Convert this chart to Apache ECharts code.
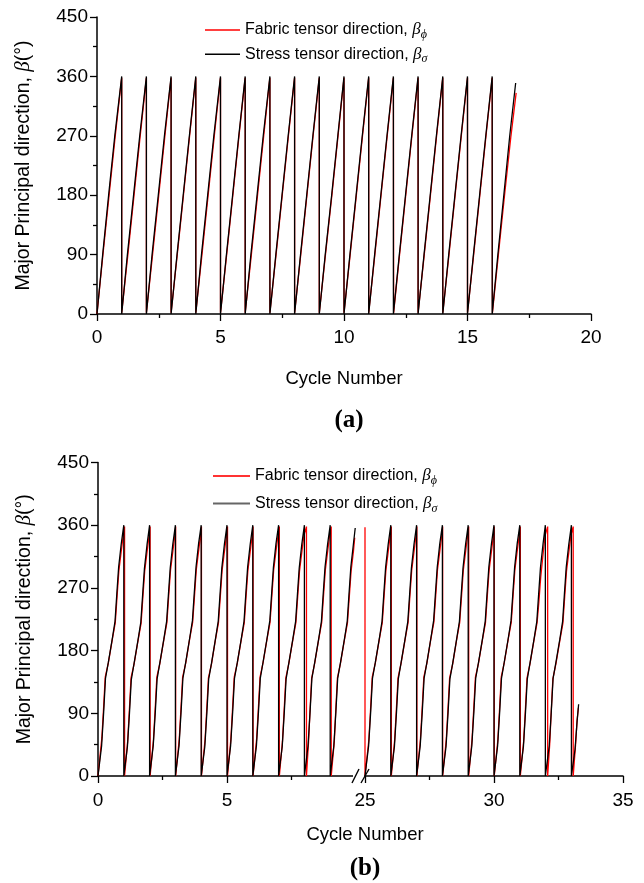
<!DOCTYPE html>
<html><head><meta charset="utf-8">
<script src="https://cdn.jsdelivr.net/npm/echarts@6/dist/echarts.min.js"></script>
<style>html,body{margin:0;padding:0;background:#fff}#c{width:644px;height:883px}</style>
</head><body><div id="c"></div>
<script>
const seriesNames = ['Fabric tensor direction', 'Stress tensor direction'];
const seriesSubs = ['ϕ', 'σ'];
const yTickValues = [0, 90, 180, 270, 360, 450];
const topXTicks = [0, 5, 10, 15, 20];
const botLeftXTicks = [0, 5];
const botRightXTicks = [25, 30, 35];
const panelLabels = ['(a)', '(b)'];
const xAxisTitle = 'Cycle Number';

// (a) fabric / stress principal direction vs cycle
const topFabric = [
[0,0],[0.24,90],[0.49,180],[0.74,270],[1,358],
[1,2],[1.25,90],[1.5,180],[1.75,270],[2,358],
[2,2],[2.25,90],[2.5,180],[2.75,270],[3,358],
[3,2],[3.25,90],[3.5,180],[3.75,270],[4,358],
[4,2],[4.25,90],[4.5,180],[4.75,270],[5,358],
[5,2],[5.25,90],[5.5,180],[5.75,270],[6,358],
[6,2],[6.25,90],[6.5,180],[6.75,270],[7,358],
[7,2],[7.25,90],[7.5,180],[7.75,270],[8,358],
[8,2],[8.25,90],[8.5,180],[8.75,270],[9,358],
[9,2],[9.25,90],[9.51,180],[9.76,270],[10,358],
[10,2],[10.25,90],[10.5,180],[10.75,270],[11,358],
[11,2],[11.25,90],[11.5,180],[11.75,270],[12,358],
[12.01,2],[12.25,90],[12.5,180],[12.75,270],[13,358],
[13,2],[13.25,90],[13.5,180],[13.75,270],[14,358],
[14,2],[14.25,90],[14.5,180],[14.75,270],[15,358],
[15,2],[15.25,90],[15.5,180],[15.75,270],[16,358],
[16.01,2],[16.25,90],[16.5,180],[16.76,270],[16.97,335]
];
const topStress = [
[0,0],[0.23,90],[0.47,180],[0.72,270],[1,360],
[1,0],[1.23,90],[1.48,180],[1.73,270],[2,360],
[2,0],[2.23,90],[2.48,180],[2.73,270],[3,360],
[3,0],[3.24,90],[3.49,180],[3.74,270],[4,360],
[4,0],[4.23,90],[4.48,180],[4.73,270],[5,360],
[5,0],[5.24,90],[5.49,180],[5.74,270],[6,360],
[6,0],[6.23,90],[6.48,180],[6.73,270],[7,360],
[7,0],[7.24,90],[7.49,180],[7.74,270],[8,360],
[8,0],[8.24,90],[8.49,180],[8.74,270],[9,360],
[9,0],[9.24,90],[9.5,180],[9.75,270],[10,360],
[10,0],[10.24,90],[10.49,180],[10.74,270],[11,360],
[11,0],[11.24,90],[11.49,180],[11.74,270],[12,360],
[12,0],[12.24,90],[12.49,180],[12.74,270],[13,360],
[13,0],[13.24,90],[13.49,180],[13.74,270],[14,360],
[14,0],[14.24,90],[14.49,180],[14.74,270],[15,360],
[15,0],[15.24,90],[15.49,180],[15.74,270],[16,360],
[16,0],[16.23,90],[16.47,180],[16.71,270],[16.95,350]
];

// (b) left part of broken axis (cycles 0-10)
const botFabricL = [
[0,0],[0.15,55],[0.22,100],[0.28,142],[0.4,162],[0.55,195],[0.67,220],[0.74,258],[0.81,295],[0.92,328],[0.98,346],[1.03,358],
[1.03,0],[1.15,50],[1.22,98],[1.28,141],[1.4,161],[1.55,194],[1.67,219],[1.74,257],[1.81,294],[1.92,327],[1.98,345],[2.02,358],
[2.02,0],[2.15,52],[2.22,99],[2.28,142],[2.4,162],[2.55,195],[2.67,220],[2.74,258],[2.81,295],[2.92,328],[2.98,346],[3.01,358],
[3.01,0],[3.15,53],[3.22,100],[3.28,142],[3.4,162],[3.55,196],[3.67,221],[3.74,258],[3.81,296],[3.92,329],[3.98,346],[4.01,358],
[4.01,0],[4.15,52],[4.22,99],[4.28,141],[4.4,161],[4.55,195],[4.67,220],[4.74,257],[4.81,295],[4.92,328],[4.98,345],[5.02,358],
[5.02,0],[5.15,53],[5.22,100],[5.28,142],[5.4,162],[5.55,195],[5.67,220],[5.74,258],[5.81,295],[5.92,328],[5.98,346],[6.01,358],
[6.01,0],[6.15,54],[6.22,100],[6.28,142],[6.4,163],[6.55,196],[6.67,221],[6.74,259],[6.81,296],[6.92,329],[6.98,346],[7.03,358],
[7.03,0],[7.15,50],[7.22,98],[7.28,141],[7.4,162],[7.55,195],[7.67,220],[7.74,257],[7.81,294],[7.92,327],[7.98,345],[8.08,358],
[8.08,0],[8.16,48],[8.22,96],[8.28,140],[8.4,162],[8.55,195],[8.67,220],[8.74,258],[8.81,295],[8.92,328],[8.98,346],[9.04,358],
[9.04,0],[9.16,50],[9.22,98],[9.28,141],[9.4,162],[9.55,195],[9.67,220],[9.74,257],[9.81,294],[9.9,322],[9.95,342]
];
const botStressL = [
[0,0],[0.14,43],[0.22,92],[0.29,140],[0.4,163],[0.55,196],[0.66,222],[0.73,262],[0.8,300],[0.9,333],[1,360],
[1,0],[1.14,42],[1.22,90],[1.29,138],[1.4,162],[1.55,195],[1.66,221],[1.73,260],[1.8,298],[1.9,332],[2,360],
[2,0],[2.14,43],[2.22,91],[2.29,139],[2.4,163],[2.55,196],[2.66,222],[2.73,261],[2.8,299],[2.9,333],[3,360],
[3,0],[3.14,43],[3.22,92],[3.29,140],[3.4,163],[3.55,197],[3.66,223],[3.73,262],[3.8,300],[3.9,334],[4,360],
[4,0],[4.14,42],[4.22,91],[4.29,139],[4.4,162],[4.55,196],[4.66,222],[4.73,261],[4.8,299],[4.9,333],[5,360],
[5,0],[5.14,43],[5.22,92],[5.29,140],[5.4,163],[5.55,196],[5.66,222],[5.73,262],[5.8,300],[5.9,333],[6,360],
[6,0],[6.14,43],[6.22,92],[6.29,140],[6.4,164],[6.55,197],[6.66,223],[6.73,262],[6.8,300],[6.9,334],[7,360],
[7,0],[7.14,42],[7.22,91],[7.29,139],[7.4,163],[7.55,196],[7.66,222],[7.73,261],[7.8,299],[7.9,333],[8,360],
[8,0],[8.14,43],[8.22,92],[8.29,140],[8.4,163],[8.55,196],[8.66,222],[8.73,262],[8.8,300],[8.9,333],[9,360],
[9,0],[9.14,43],[9.22,92],[9.29,140],[9.4,163],[9.55,196],[9.66,222],[9.73,262],[9.8,300],[9.9,333],[9.97,356]
];

// (b) right part of broken axis (cycles 25-35)
const botFabricR = [
[25,357],[25,0],[25.15,52],[25.22,99],[25.28,142],[25.4,162],[25.55,195],[25.67,220],[25.74,258],[25.81,295],[25.92,328],[25.98,346],[26.02,358],
[26.02,0],[26.15,52],[26.22,99],[26.28,141],[26.4,162],[26.55,195],[26.67,220],[26.74,258],[26.81,295],[26.92,328],[26.98,346],[27.01,358],
[27.01,0],[27.15,53],[27.22,100],[27.28,142],[27.4,162],[27.55,196],[27.67,221],[27.74,258],[27.81,296],[27.92,329],[27.98,346],[28.01,358],
[28.01,0],[28.15,52],[28.22,99],[28.28,141],[28.4,161],[28.55,195],[28.67,220],[28.74,257],[28.81,295],[28.92,328],[28.98,345],[29.02,358],
[29.02,0],[29.15,53],[29.22,100],[29.28,142],[29.4,162],[29.55,195],[29.67,220],[29.74,258],[29.81,295],[29.92,328],[29.98,346],[30.01,358],
[30.01,0],[30.15,52],[30.22,99],[30.28,142],[30.4,163],[30.55,196],[30.67,221],[30.74,259],[30.81,296],[30.92,329],[30.98,346],[31.02,358],
[31.02,0],[31.15,50],[31.22,98],[31.28,141],[31.4,162],[31.55,195],[31.67,220],[31.74,250],[31.81,285],[31.92,325],[31.98,345],[32.08,358],
[32.08,0],[32.16,46],[32.22,94],[32.28,139],[32.4,161],[32.55,194],[32.67,219],[32.74,257],[32.81,294],[32.92,327],[32.98,345],[33.07,358],
[33.07,0],[33.16,44],[33.22,80],[33.27,98]
];
const botStressR = [
[25,0],[25.14,43],[25.22,92],[25.29,140],[25.4,163],[25.55,196],[25.66,222],[25.73,262],[25.8,300],[25.9,333],[26,360],
[26,0],[26.14,42],[26.22,91],[26.29,139],[26.4,163],[26.55,196],[26.66,222],[26.73,261],[26.8,299],[26.9,333],[27,360],
[27,0],[27.14,43],[27.22,92],[27.29,140],[27.4,163],[27.55,197],[27.66,223],[27.73,262],[27.8,300],[27.9,334],[28,360],
[28,0],[28.14,42],[28.22,91],[28.29,139],[28.4,162],[28.55,196],[28.66,222],[28.73,261],[28.8,299],[28.9,333],[29,360],
[29,0],[29.14,43],[29.22,92],[29.29,140],[29.4,163],[29.55,196],[29.66,222],[29.73,262],[29.8,300],[29.9,333],[30,360],
[30,0],[30.14,43],[30.22,92],[30.29,140],[30.4,164],[30.55,197],[30.66,223],[30.73,262],[30.8,300],[30.9,334],[31,360],
[31,0],[31.14,42],[31.22,91],[31.29,139],[31.4,163],[31.55,196],[31.66,222],[31.73,261],[31.8,299],[31.9,333],[31.99,360],
[31.99,0],[32.14,43],[32.22,92],[32.29,140],[32.4,163],[32.55,196],[32.66,222],[32.73,262],[32.8,300],[32.9,333],[33,360],
[33,0],[33.14,38],[33.22,78],[33.28,103]
];

const FONT = "'Liberation Sans', Arial, sans-serif";
const SERIF = "'Liberation Serif', 'Times New Roman', serif";
const axisLineStyle = {lineStyle: {color: '#000', width: 1.5}};
const tickStyle = {length: 7, inside: false, lineStyle: {color: '#000', width: 1.3}};
const minorStyle = {show: true, splitNumber: 2, length: 4, lineStyle: {color: '#000', width: 1.3}};
const labelStyle = {color: '#000', fontSize: 19, fontFamily: FONT};

function legendRich() {
  return {
    n: {fontSize: 16, fontFamily: FONT, color: '#000', lineHeight: 22},
    b: {fontSize: 17, fontFamily: SERIF, fontStyle: 'italic', color: '#000', lineHeight: 22},
    s: {fontSize: 12, fontFamily: SERIF, fontStyle: 'italic', color: '#000', lineHeight: 12, verticalAlign: 'bottom'}
  };
}
function legendFmt(name) {
  const i = seriesNames.indexOf(name);
  return '{n|' + name + ', }{b|β}{s|' + seriesSubs[i] + '}';
}

const chart = echarts.init(document.getElementById('c'), null, {renderer: 'canvas'});
const yNameRich = {
  n: {fontSize: 19.5, fontFamily: FONT, color: '#000'},
  b: {fontSize: 21, fontFamily: SERIF, fontStyle: 'italic', color: '#000'}
};
const yName = '{n|Major Principal direction, }{b|β}{n|(°)}';

function yAxisDef(gridIndex, show) {
  return {
    type: 'value', gridIndex: gridIndex, show: show,
    min: yTickValues[0], max: yTickValues[yTickValues.length - 1], interval: yTickValues[1] - yTickValues[0],
    axisLine: Object.assign({show: true}, axisLineStyle),
    axisTick: tickStyle, minorTick: minorStyle,
    splitLine: {show: false},
    axisLabel: Object.assign({margin: 9}, labelStyle),
    name: show ? yName : '', nameLocation: 'middle', nameGap: 63,
    nameTextStyle: {rich: yNameRich}
  };
}

function lineSeries(name, data, color, xi, z) {
  return {
    type: 'line', name: name, data: data, xAxisIndex: xi, yAxisIndex: xi,
    showSymbol: false, symbol: 'none', animation: false, z: z,
    lineStyle: {color: color, width: 1.3}, itemStyle: {color: color}
  };
}

chart.setOption({
  animation: false,
  backgroundColor: '#fff',
  textStyle: {fontFamily: FONT},
  grid: [
    {left: 97, top: 17, width: 494, height: 297},
    {left: 98, top: 462.5, width: 258, height: 313.5},
    {left: 365, top: 462.5, width: 258, height: 313.5}
  ],
  xAxis: [
    {
      type: 'value', gridIndex: 0, min: topXTicks[0], max: topXTicks[topXTicks.length - 1],
      interval: topXTicks[1] - topXTicks[0],
      axisLine: axisLineStyle, axisTick: tickStyle, minorTick: minorStyle, splitLine: {show: false},
      axisLabel: Object.assign({margin: 14}, labelStyle),
      name: xAxisTitle, nameLocation: 'middle', nameGap: 55,
      nameTextStyle: {fontSize: 18.5, fontFamily: FONT, color: '#000'}
    },
    {
      type: 'value', gridIndex: 1, min: 0, max: 10, interval: botLeftXTicks[1] - botLeftXTicks[0],
      axisLine: axisLineStyle,
      axisTick: Object.assign({customValues: botLeftXTicks}, tickStyle),
      minorTick: minorStyle, splitLine: {show: false},
      axisLabel: Object.assign({margin: 15,
        formatter: function (v) { return Number(v) < 10 ? String(v) : ''; }}, labelStyle)
    },
    {
      type: 'value', gridIndex: 2, min: botRightXTicks[0], max: botRightXTicks[botRightXTicks.length - 1],
      interval: botRightXTicks[1] - botRightXTicks[0],
      axisLine: axisLineStyle, axisTick: tickStyle, minorTick: minorStyle, splitLine: {show: false},
      axisLabel: Object.assign({margin: 15}, labelStyle)
    }
  ],
  yAxis: [yAxisDef(0, true), yAxisDef(1, true), yAxisDef(2, false)],
  legend: [
    {
      orient: 'vertical', left: 200, top: 16.5, itemWidth: 35, itemHeight: 1.5, itemGap: 4.8,
      icon: 'rect', selectedMode: false,
      data: seriesNames.map(function (n, i) { return {name: n, itemStyle: {color: i === 0 ? '#ff0000' : '#000'}}; }),
      formatter: legendFmt, textStyle: {rich: legendRich()}
    },
    {
      orient: 'vertical', left: 208, top: 462.5, itemWidth: 37, itemHeight: 2, itemGap: 8,
      icon: 'rect', selectedMode: false,
      data: seriesNames.map(function (n, i) { return {name: n, itemStyle: {color: i === 0 ? '#ff3333' : '#666'}}; }),
      formatter: legendFmt, textStyle: {rich: legendRich()}
    }
  ],
  title: [
    {text: panelLabels[0], left: 344, top: 403, textAlign: 'center',
      textStyle: {fontFamily: SERIF, fontWeight: 'bold', fontSize: 25, color: '#000'}},
    {text: xAxisTitle, left: 360, top: 820, textAlign: 'center',
      textStyle: {fontFamily: FONT, fontWeight: 'normal', fontSize: 18.5, color: '#000'}},
    {text: panelLabels[1], left: 360, top: 851, textAlign: 'center',
      textStyle: {fontFamily: SERIF, fontWeight: 'bold', fontSize: 25, color: '#000'}}
  ],
  series: [
    lineSeries(seriesNames[0], topFabric, '#ff0000', 0, 2),
    lineSeries(seriesNames[1], topStress, '#000000', 0, 3),
    lineSeries(seriesNames[0], botFabricL, '#ff0000', 1, 2),
    lineSeries(seriesNames[1], botStressL, '#000000', 1, 3),
    lineSeries(seriesNames[0], botFabricR, '#ff0000', 2, 2),
    lineSeries(seriesNames[1], botStressR, '#000000', 2, 3)
  ]
});

// axis break marks ("//") placed from the two bottom axes
const pL = chart.convertToPixel({xAxisIndex: 1, yAxisIndex: 1}, [10, 0]);
const pR = chart.convertToPixel({xAxisIndex: 2, yAxisIndex: 2}, [botRightXTicks[0], 0]);
chart.setOption({
  graphic: [
    {type: 'rect', z: 100, shape: {x: pL[0] - 3, y: pL[1] - 4, width: pR[0] - pL[0] + 1, height: 12},
      style: {fill: '#fff'}},
    {type: 'line', z: 101, shape: {x1: pL[0] - 4, y1: pL[1] + 7, x2: pL[0] + 3, y2: pL[1] - 7},
      style: {stroke: '#000', lineWidth: 1.4}},
    {type: 'line', z: 101, shape: {x1: pR[0] - 4, y1: pR[1] + 7, x2: pR[0] + 4, y2: pR[1] - 7},
      style: {stroke: '#000', lineWidth: 1.4}}
  ]
});
</script>
</body></html>
